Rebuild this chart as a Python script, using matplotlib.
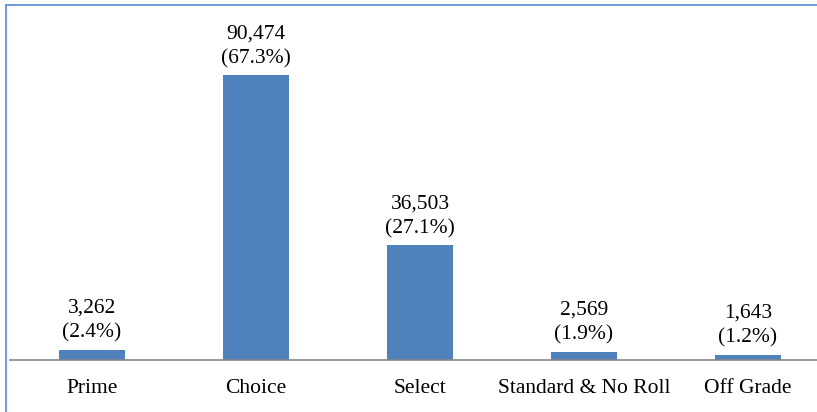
import matplotlib
matplotlib.use("Agg")
import matplotlib.pyplot as plt
from matplotlib.lines import Line2D

categories = ["Prime", "Choice", "Select", "Standard & No Roll", "Off Grade"]
counts = [3262, 90474, 36503, 2569, 1643]
percents = [2.4, 67.3, 27.1, 1.9, 1.2]

W, H = 817, 412
fig = plt.figure(figsize=(W / 100, H / 100), dpi=100)
plt.rcParams['font.family'] = ['Liberation Serif', 'DejaVu Serif']

def fx(x):
    return x / W

def fy(y):
    return 1 - y / H

ax_left, ax_right, ax_top, ax_bottom = 10, 817, 20, 360
ax = fig.add_axes([fx(ax_left), fy(ax_bottom), (ax_right - ax_left) / W, (ax_bottom - ax_top) / H])

bar_color = "#4F81BD"
x = list(range(len(categories)))
ax.bar(x, counts, width=0.4, color=bar_color, zorder=2)

slot_px = 164
ax.set_xlim(-0.5, -0.5 + (ax_right - ax_left) / slot_px)
ymax = max(counts) * (ax_bottom - ax_top) / 285
ax.set_ylim(0, ymax)

fs = 15.5
for xi, c, p in zip(x, counts, percents):
    ax.annotate(f"{c:,}\n({p}%)", (xi, c), xytext=(0, 5), textcoords="offset points",
                ha="center", va="bottom", fontsize=fs, linespacing=1.4, color="black")

ax.set_xticks(x)
ax.set_xticklabels(categories, fontsize=fs)
ax.tick_params(axis="x", length=0, pad=14)
ax.set_yticks([])
for s in ["left", "right", "top"]:
    ax.spines[s].set_visible(False)
ax.spines["bottom"].set_color("#868686")
ax.spines["bottom"].set_linewidth(1.2)

border_color = "#6A9BD8"
fig.add_artist(Line2D([fx(6), fx(6)], [fy(5), 0], color=border_color, linewidth=1.4,
                      transform=fig.transFigure))
fig.add_artist(Line2D([fx(6), 1], [fy(5), fy(5)], color=border_color, linewidth=1.4,
                      transform=fig.transFigure))

fig.savefig("out.png", dpi=100)
